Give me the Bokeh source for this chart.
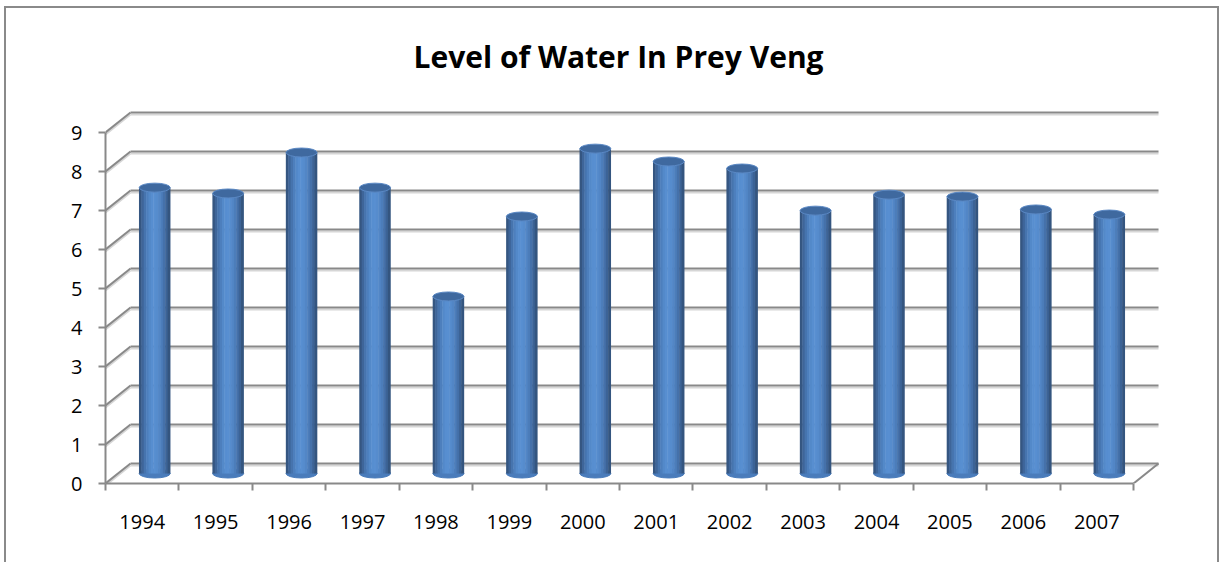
import numpy as np
from bokeh.plotting import figure
from bokeh.models import Range1d, FixedTicker
from bokeh.embed import file_html
from bokeh.resources import INLINE

# ---- data ----
years = ["1994", "1995", "1996", "1997", "1998", "1999", "2000",
         "2001", "2002", "2003", "2004", "2005", "2006", "2007"]
levels = [7.33, 7.18, 8.23, 7.33, 4.54, 6.59, 8.33,
          8.00, 7.82, 6.74, 7.15, 7.10, 6.77, 6.64]
y_ticks = [0, 1, 2, 3, 4, 5, 6, 7, 8, 9]
title = "Level of Water In Prey Veng"

# ---- geometry (pixels) ----
W, H = 1215, 556
ML, MR, MT, MB = 99, 46, 92, 81
PX_X = 73.43   # px per category
PX_Y = 39.0    # px per unit
x_max = (W - ML - MR) / PX_X
y_max = (H - MT - MB) / PX_Y
n = len(years)
back_dx = 25 / PX_X
back_dy = 20 / PX_Y

GRID = "#898989"
SHADOW = "#d6d6d6"
FONT = "Open Sans"

p = figure(width=W, height=H, x_range=Range1d(0, x_max), y_range=Range1d(0, y_max),
           output_backend="svg", toolbar_location=None,
           min_border_left=ML, min_border_right=MR, min_border_top=MT, min_border_bottom=MB)
p.styles = {"border-left": "2px solid #8a8a8a", "border-top": "2px solid #8a8a8a",
            "border-right": "2px solid #8a8a8a", "margin-left": "4px", "margin-top": "6px"}
p.outline_line_color = None
p.xgrid.visible = False
p.ygrid.visible = False
p.background_fill_color = "white"
p.border_fill_color = "white"

# ---- walls / gridlines ----
ks = np.array(y_ticks, dtype=float)
sh = 2 / PX_Y
# back-wall horizontal lines
p.segment(x0=np.full(len(ks), back_dx), y0=ks + back_dy - sh, x1=np.full(len(ks), n + back_dx),
          y1=ks + back_dy - sh, line_color=SHADOW, line_width=2)
p.segment(x0=np.full(len(ks), back_dx), y0=ks + back_dy, x1=np.full(len(ks), n + back_dx),
          y1=ks + back_dy, line_color=GRID, line_width=2)
# side-wall diagonals
p.segment(x0=np.zeros(len(ks)), y0=ks - sh, x1=np.full(len(ks), back_dx), y1=ks + back_dy - sh,
          line_color=SHADOW, line_width=2)
p.segment(x0=np.zeros(len(ks)), y0=ks, x1=np.full(len(ks), back_dx), y1=ks + back_dy,
          line_color=GRID, line_width=2)
# floor right edge
p.segment(x0=[n], y0=[0], x1=[n + back_dx], y1=[back_dy], line_color=GRID, line_width=2)

# ---- cylinders ----
idx = np.arange(n)
vals = np.array(levels)
cx = idx + 0.5 + back_dx / 2
base = back_dy / 2
tops = vals + base
bw = 31 / PX_X
eh = 9 / PX_Y

strip_colors = ["#355681", "#3e6599", "#4674ae", "#4d7fbd", "#5389c9", "#578ed0",
                "#588fd1", "#568ccd", "#5286c6", "#4c7dba", "#4571aa", "#3c6396",
                "#34557f"]
ns = len(strip_colors)
# bottom caps
p.ellipse(x=cx, y=np.full(n, base), width=bw, height=eh, fill_color="#4a7cbb",
          line_color="#4a7cbb")
for j, col in enumerate(strip_colors):
    xs = cx - bw / 2 + (j + 0.5) * bw / ns
    p.vbar(x=xs, bottom=np.full(n, base), top=tops, width=bw / ns * 1.2,
           fill_color=col, line_color=None)
# top caps
p.ellipse(x=cx, y=tops, width=bw, height=eh, fill_color="#3f699f",
          line_color="#5a88c4", line_width=1)

# ---- axes ----
xa = p.xaxis[0]
xa.ticker = FixedTicker(ticks=[i + 0.5 for i in range(n)], minor_ticks=list(range(n + 1)))
xa.major_label_overrides = {i + 0.5: years[i] for i in range(n)}
xa.bounds = (0, n)
xa.axis_line_color = GRID
xa.axis_line_width = 2
xa.major_tick_line_color = None
xa.minor_tick_line_color = GRID
xa.minor_tick_line_width = 2
xa.minor_tick_in = 0
xa.minor_tick_out = 7
xa.major_label_standoff = 24
xa.major_label_text_font = FONT
xa.major_label_text_font_size = "20px"
xa.major_label_text_color = "black"

ya = p.yaxis[0]
ya.ticker = FixedTicker(ticks=y_ticks, minor_ticks=[])
ya.bounds = (0, 9)
ya.axis_line_color = GRID
ya.axis_line_width = 2
ya.major_tick_line_color = GRID
ya.major_tick_line_width = 2
ya.major_tick_in = 0
ya.major_tick_out = 7
ya.minor_tick_line_color = None
ya.major_label_standoff = 16
ya.major_label_text_font = FONT
ya.major_label_text_font_size = "20px"
ya.major_label_text_color = "black"

p.title.text = title
p.title.align = "left"
p.title.offset = 308
p.title.standoff = 47
p.title.text_font = FONT
p.title.text_font_style = "bold"
p.title.text_font_size = "30px"
p.title.text_color = "black"

open("out.html", "w").write(file_html(p, INLINE))
